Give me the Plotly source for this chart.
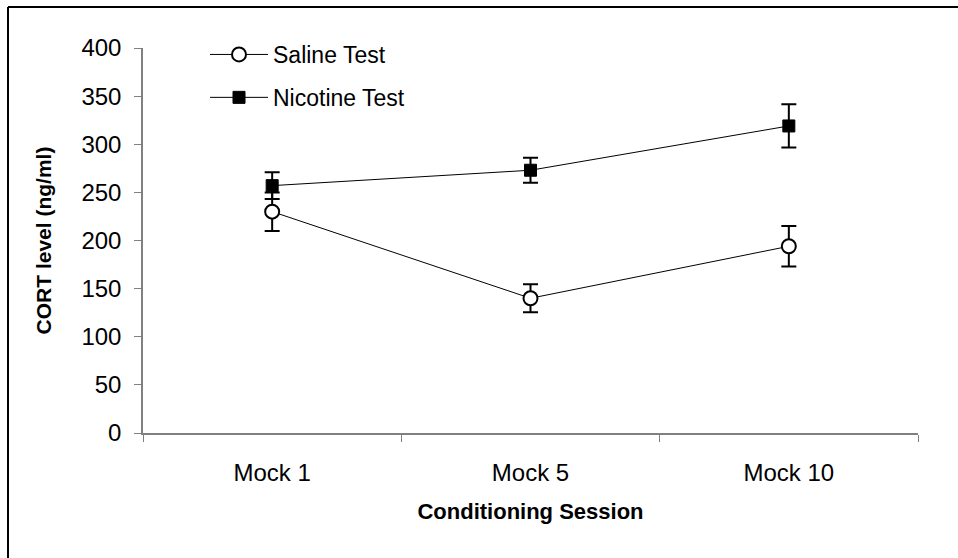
import plotly.graph_objects as go

sessions = ["Mock 1", "Mock 5", "Mock 10"]
x_pos = [1, 2, 3]
saline_mean = [230, 140, 194]
saline_err = [20, 14.5, 21]
nicotine_mean = [257, 273, 319]
nicotine_err = [14, 13, 22.5]
y_ticks = [0, 50, 100, 150, 200, 250, 300, 350, 400]

FONT = "Liberation Sans, Arial, sans-serif"

fig = go.Figure()
fig.add_trace(go.Scatter(
    x=x_pos, y=saline_mean, name="Saline Test", mode="lines+markers",
    legendgroup="s",
    line=dict(color="black", width=1),
    marker=dict(symbol="circle", size=14, color="white", line=dict(color="black", width=2)),
    error_y=dict(type="data", array=saline_err, color="black", thickness=2, width=7.5),
))
fig.add_trace(go.Scatter(
    x=x_pos, y=nicotine_mean, name="Nicotine Test", mode="lines+markers",
    legendgroup="n",
    line=dict(color="black", width=1),
    marker=dict(symbol="square", size=12, color="black", line=dict(color="black", width=1)),
    error_y=dict(type="data", array=nicotine_err, color="black", thickness=2, width=7.5),
))

W, H = 958, 558
L, R, T, B = 143, 40, 48, 125
pw, ph = W - L - R, H - T - B

def px(xp):
    return (xp - L) / pw

def py(yp):
    return (H - B - yp) / ph

fig.update_layout(
    width=W, height=H,
    margin=dict(l=L, r=R, t=T, b=B, pad=0),
    paper_bgcolor="white", plot_bgcolor="white",
    font=dict(family=FONT, size=24, color="black"),
    showlegend=True,
    legend=dict(
        x=px(205), y=py(33), xanchor="left", yanchor="top",
        bgcolor="rgba(0,0,0,0)", font=dict(size=23, family=FONT),
        traceorder="grouped", tracegroupgap=10, itemwidth=58,
    ),
    xaxis=dict(
        range=[0.5, 3.5], tickmode="array", tickvals=x_pos, ticktext=sessions,
        ticks="", showgrid=False, zeroline=False,
        showline=True, linecolor="#808080", linewidth=1.5,
        tickfont=dict(size=24, family=FONT),
        minor=dict(tickmode="linear", tick0=0.5, dtick=1, ticks="outside",
                   ticklen=7, tickcolor="#808080", tickwidth=1, showgrid=False),
        title=dict(text="<b>Conditioning Session</b>", font=dict(size=22, family=FONT), standoff=19),
        ticklabelstandoff=17,
    ),
    yaxis=dict(
        range=[0, 400], tickmode="array", tickvals=y_ticks,
        ticks="outside", ticklen=7, tickcolor="#808080", tickwidth=1,
        showgrid=False, zeroline=False,
        showline=True, linecolor="#808080", linewidth=1.5,
        tickfont=dict(size=24, family=FONT),
        ticklabelstandoff=8,
        title=dict(text="<b>CORT level (ng/ml)</b>", font=dict(size=21, family=FONT), standoff=24),
    ),
    shapes=[
        dict(type="line", xref="paper", yref="paper", x0=px(8), x1=px(960), y0=py(7), y1=py(7),
             line=dict(color="black", width=2)),
        dict(type="line", xref="paper", yref="paper", x0=px(8), x1=px(8), y0=py(7), y1=py(560),
             line=dict(color="black", width=2)),
    ],
)

fig.write_html("out.html")
